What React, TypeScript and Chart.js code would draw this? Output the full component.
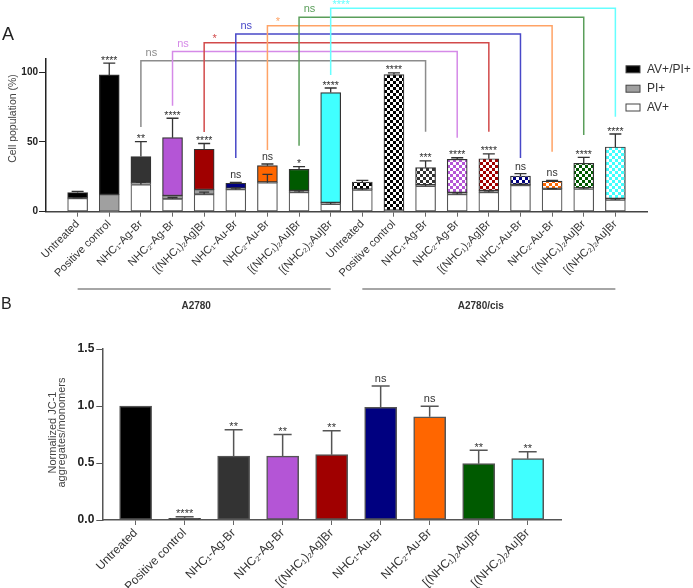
import React, { useEffect, useRef } from 'react';
import { Chart, registerables } from 'chart.js';
Chart.register(...registerables);

const FONT = "'Liberation Sans', Arial, Helvetica, sans-serif";

// ---------- data ----------
const catLabels = ['Untreated', 'Positive control', 'NHC₁-Ag-Br', 'NHC₂-Ag-Br', '[(NHC₁)₂Ag]Br', 'NHC₁-Au-Br', 'NHC₂-Au-Br', '[(NHC₁)₂Au]Br', '[(NHC₂)₂Au]Br'];
const groupNames = ['A2780', 'A2780/cis'];
const labelsA = [...catLabels, ...catLabels];
const compoundColors = ['#000000', '#000000', '#333333', '#b455d6', '#a00000', '#000080', '#ff6600', '#005a00', '#40ffff'];

// Panel A (cell population %), 9 A2780 bars then 9 A2780/cis bars
const avPlus = [9.6, 0.3, 19.5, 9.2, 12.5, 16, 20.8, 13.9, 5.5, 15.6, 0.3, 18.4, 12.5, 13.9, 18.9, 16.1, 16.3, 8.4];
const piPlus = [0.4, 12, 1.5, 2.3, 3.3, 0.8, 0.5, 1.2, 1, 0.5, 0.7, 0.8, 1.2, 1.2, 0.5, 0.5, 0.6, 1];
const avPiPlus = [3.8, 85.8, 18.5, 41.6, 29, 3.6, 11.7, 15.3, 78.9, 5.2, 97.3, 12.4, 23.9, 22.9, 6.2, 5.4, 17.8, 37];
const errTotal = [0.8, 8.4, 10.7, 13.9, 4.1, 0.7, 1.2, 1.9, 3.3, 1.2, 1.2, 4.8, 1.1, 3.4, 1.7, 0.5, 4.3, 9.3];
const errAv = [0.5, 0, 1.5, 1, 1.5, 1, 6, 1, 1, 0.8, 0, 1, 1, 1, 0.8, 0.5, 0.8, 0.8];
const sigA = ['', '****', '**', '****', '****', 'ns', 'ns', '*', '****', '', '****', '***', '****', '****', 'ns', 'ns', '****', '****'];
const legendLabels = ['AV+/PI+', 'PI+', 'AV+'];
const legendColors = ['#000000', '#a0a0a0', '#ffffff'];

// comparison brackets A2780 vs A2780/cis
const bracketFrom = [2, 3, 4, 5, 6, 7, 8];
const bracketTo = [11, 12, 13, 14, 15, 16, 17];
const bracketLevel = [108.3, 114.8, 121.2, 127.5, 133.4, 139.5, 145.9];
const bracketLeftEnd = [60.8, 76, 57.2, 38.5, 44.3, 47.3, 98];
const bracketRightEnd = [57.4, 53, 57.4, 38.5, 43, 55, 68];
const bracketSig = ['ns', 'ns', '*', 'ns', '*', 'ns', '****'];
const bracketColors = ['#8c8c8c', '#d58ae8', '#d24a4a', '#4848c8', '#ffa366', '#5a9e5a', '#66ffff'];

// Panel B (normalized JC-1 aggregates/monomers)
const jcValues = [1.0, 0.015, 0.561, 0.561, 0.573, 0.989, 0.906, 0.494, 0.538];
const jcErr = [0, 0.014, 0.231, 0.19, 0.21, 0.186, 0.091, 0.117, 0.061];
const sigB = ['', '****', '**', '**', '**', 'ns', 'ns', '**', '**'];

// ---------- helpers ----------
function checker(color: string): CanvasPattern | string {
  const c = document.createElement('canvas');
  c.width = 6; c.height = 6;
  const g = c.getContext('2d');
  if (!g) return color;
  g.fillStyle = '#ffffff'; g.fillRect(0, 0, 6, 6);
  g.fillStyle = color; g.fillRect(0, 0, 3, 3); g.fillRect(3, 3, 3, 3);
  return g.createPattern(c, 'repeat') || color;
}

function errBar(ctx: CanvasRenderingContext2D, x: number, y0: number, y1: number, half: number) {
  ctx.beginPath();
  ctx.moveTo(x, y0); ctx.lineTo(x, y1);
  ctx.moveTo(x - half, y1); ctx.lineTo(x + half, y1);
  ctx.stroke();
}

function sigText(ctx: CanvasRenderingContext2D, t: string, x: number, yRef: number, size: number) {
  if (!t) return;
  ctx.font = `${size}px ${FONT}`;
  ctx.textAlign = 'center';
  ctx.textBaseline = 'alphabetic';
  const isStar = t.indexOf('*') >= 0;
  ctx.fillText(t, x, isStar ? yRef + 1.5 : yRef - 3);
}

const annotA = {
  id: 'annotA',
  afterDraw(chart: any) {
    const ctx: CanvasRenderingContext2D = chart.ctx;
    const x = chart.scales.x, y = chart.scales.y;
    ctx.save();
    // error bars + significance
    for (let i = 0; i < labelsA.length; i++) {
      const px = x.getPixelForValue(i);
      const tot = avPlus[i] + piPlus[i] + avPiPlus[i];
      ctx.strokeStyle = '#333'; ctx.lineWidth = 1.3;
      if (errTotal[i] > 0) errBar(ctx, px, y.getPixelForValue(tot), y.getPixelForValue(tot + errTotal[i]), 6);
      if (errAv[i] > 0) errBar(ctx, px, y.getPixelForValue(avPlus[i]), y.getPixelForValue(avPlus[i] + errAv[i]), 5);
      ctx.fillStyle = '#333';
      sigText(ctx, sigA[i], px, y.getPixelForValue(tot + errTotal[i]) - 1, 10.5);
    }
    // brackets
    for (let k = 0; k < bracketFrom.length; k++) {
      const xl = x.getPixelForValue(bracketFrom[k]);
      const xr = x.getPixelForValue(bracketTo[k]);
      const yl = y.getPixelForValue(bracketLevel[k]);
      ctx.strokeStyle = bracketColors[k]; ctx.lineWidth = 1.5;
      ctx.beginPath();
      ctx.moveTo(xl, y.getPixelForValue(bracketLeftEnd[k]));
      ctx.lineTo(xl, yl); ctx.lineTo(xr, yl);
      ctx.lineTo(xr, y.getPixelForValue(bracketRightEnd[k]));
      ctx.stroke();
      ctx.fillStyle = bracketColors[k];
      sigText(ctx, bracketSig[k], x.getPixelForValue(bracketFrom[k] + 0.33), yl - 2, 11);
    }
    // legend
    ctx.font = `12px ${FONT}`;
    ctx.textAlign = 'left'; ctx.textBaseline = 'middle';
    const ly = [69.3, 88.7, 107.5];
    legendLabels.forEach((t, k) => {
      ctx.fillStyle = legendColors[k];
      ctx.fillRect(626, ly[k] - 3.5, 14, 7);
      ctx.strokeStyle = '#444'; ctx.lineWidth = 1;
      ctx.strokeRect(626, ly[k] - 3.5, 14, 7);
      ctx.fillStyle = '#333';
      ctx.fillText(t, 647, ly[k]);
    });
    // group lines + labels
    ctx.strokeStyle = '#888'; ctx.lineWidth = 1.5;
    ctx.fillStyle = '#333';
    ctx.font = `bold 10px ${FONT}`;
    ctx.textAlign = 'center'; ctx.textBaseline = 'middle';
    groupNames.forEach((g, k) => {
      const a = x.getPixelForValue(k * 9), b = x.getPixelForValue(k * 9 + 8);
      ctx.beginPath(); ctx.moveTo(a, 289); ctx.lineTo(b, 289); ctx.stroke();
      ctx.fillText(g, (a + b) / 2 - 8, 306);
    });
    // panel letter
    ctx.font = `18px ${FONT}`;
    ctx.fillStyle = '#222';
    ctx.textAlign = 'left';
    ctx.fillText('A', 2, 35);
    // y title
    ctx.translate(13, 118.5);
    ctx.rotate(-Math.PI / 2);
    ctx.font = `10.5px ${FONT}`;
    ctx.fillStyle = '#444';
    ctx.textAlign = 'center';
    ctx.fillText('Cell population (%)', 0, 0);
    ctx.restore();
  },
};

const annotB = {
  id: 'annotB',
  afterDraw(chart: any) {
    const ctx: CanvasRenderingContext2D = chart.ctx;
    const x = chart.scales.x, y = chart.scales.y;
    ctx.save();
    for (let i = 0; i < catLabels.length; i++) {
      const px = x.getPixelForValue(i);
      ctx.strokeStyle = '#555'; ctx.lineWidth = 1.5;
      if (jcErr[i] > 0) errBar(ctx, px, y.getPixelForValue(jcValues[i]), y.getPixelForValue(jcValues[i] + jcErr[i]), 9);
      ctx.fillStyle = '#333';
      sigText(ctx, sigB[i], px, y.getPixelForValue(jcValues[i] + jcErr[i]) - 1, 11);
    }
    ctx.font = `16px ${FONT}`;
    ctx.fillStyle = '#222';
    ctx.textAlign = 'left'; ctx.textBaseline = 'middle';
    ctx.fillText('B', 1, 15);
    ctx.translate(57, (y.top + y.bottom) / 2 - 2);
    ctx.rotate(-Math.PI / 2);
    ctx.font = `11px ${FONT}`;
    ctx.fillStyle = '#444';
    ctx.textAlign = 'center';
    ctx.fillText('Normalized JC-1', 0, -4);
    ctx.fillText('aggregates/monomers', 0, 5);
    ctx.restore();
  },
};

function configA(): any {
  const topColors = avPiPlus.map((_, i) => (i < 9 ? compoundColors[i] : checker(compoundColors[i - 9])));
  const common = { borderSkipped: false, barThickness: 20, stack: 's' };
  return {
    type: 'bar',
    data: {
      datasets: [
        { label: 'AV+', data: avPlus.map((v, i) => ({ x: i, y: v })), backgroundColor: '#ffffff', borderColor: '#555', borderWidth: 1.2, ...common },
        { label: 'PI+', data: piPlus.map((v, i) => ({ x: i, y: v })), backgroundColor: '#a0a0a0', borderColor: '#444', borderWidth: 1, ...common },
        { label: 'AV+/PI+', data: avPiPlus.map((v, i) => ({ x: i, y: v })), backgroundColor: topColors, borderColor: '#333', borderWidth: 1.2, ...common },
      ],
    },
    options: {
      responsive: false, animation: false, devicePixelRatio: 1,
      layout: { padding: { top: 58.3, right: 46, left: 0, bottom: 0 } },
      plugins: { legend: { display: false }, tooltip: { enabled: false } },
      scales: {
        x: {
          type: 'linear', min: -1, max: 18, offset: false, stacked: true,
          afterBuildTicks: (s: any) => { s.ticks = labelsA.map((_, i) => ({ value: i })); },
          afterFit: (s: any) => { s.height = 320 - 211.7; },
          ticks: { autoSkip: false, minRotation: 45, maxRotation: 45, padding: 1, color: '#333', font: { family: FONT, size: 11 }, callback: (v: number) => labelsA[v] },
          grid: { display: true, drawOnChartArea: false, drawTicks: true, tickLength: 5, color: '#666', offset: false },
          border: { display: true, color: '#444', width: 1.5 },
        },
        y: {
          min: 0, max: 110, stacked: true,
          afterBuildTicks: (s: any) => { s.ticks = [0, 50, 100].map((v) => ({ value: v })); },
          afterFit: (s: any) => { s.width = 46; },
          ticks: { padding: 1, color: '#222', font: { family: FONT, size: 10, weight: 'bold' } },
          grid: { drawOnChartArea: false, tickLength: 7, color: '#222' },
          border: { display: true, color: '#222', width: 1.5 },
        },
      },
    },
    plugins: [annotA],
  };
}

function configB(): any {
  return {
    type: 'bar',
    data: {
      datasets: [
        { label: 'JC-1', data: jcValues.map((v, i) => ({ x: i, y: v })), backgroundColor: compoundColors, borderColor: '#555', borderWidth: 1.5, borderSkipped: false, barThickness: 32 },
      ],
    },
    options: {
      responsive: false, animation: false, devicePixelRatio: 1,
      layout: { padding: { top: 59, right: 132, left: 0, bottom: 0 } },
      plugins: { legend: { display: false }, tooltip: { enabled: false } },
      scales: {
        x: {
          type: 'linear', min: -0.68, max: 8.68, offset: false,
          afterBuildTicks: (s: any) => { s.ticks = catLabels.map((_, i) => ({ value: i })); },
          afterFit: (s: any) => { s.height = 298 - 230; },
          ticks: { autoSkip: false, minRotation: 45, maxRotation: 45, padding: 1, color: '#333', font: { family: FONT, size: 12 }, callback: (v: number) => catLabels[v] },
          grid: { display: true, drawOnChartArea: false, drawTicks: true, tickLength: 5, color: '#666', offset: false },
          border: { display: true, color: '#555', width: 1.5 },
        },
        y: {
          min: 0, max: 1.5,
          afterBuildTicks: (s: any) => { s.ticks = [0, 0.5, 1, 1.5].map((v) => ({ value: v })); },
          afterFit: (s: any) => { s.width = 102.3; },
          ticks: { padding: 2, color: '#222', font: { family: FONT, size: 12, weight: 'bold' }, callback: (v: number) => v.toFixed(1) },
          grid: { drawOnChartArea: false, tickLength: 6, color: '#555' },
          border: { display: true, color: '#555', width: 1.5 },
        },
      },
    },
    plugins: [annotB],
  };
}

export default function App() {
  const refA = useRef<HTMLCanvasElement>(null);
  const refB = useRef<HTMLCanvasElement>(null);
  useEffect(() => {
    const a = new Chart(refA.current as HTMLCanvasElement, configA());
    const b = new Chart(refB.current as HTMLCanvasElement, configB());
    return () => { a.destroy(); b.destroy(); };
  }, []);
  return (
    <div style={{ position: 'absolute', left: 0, top: 0, width: 693, height: 588, background: '#ffffff', overflow: 'hidden' }}>
      <canvas ref={refA} width={693} height={320} style={{ position: 'absolute', left: 0, top: 0, width: 693, height: 320 }} />
      <canvas ref={refB} width={693} height={298} style={{ position: 'absolute', left: 0, top: 290, width: 693, height: 298 }} />
    </div>
  );
}
